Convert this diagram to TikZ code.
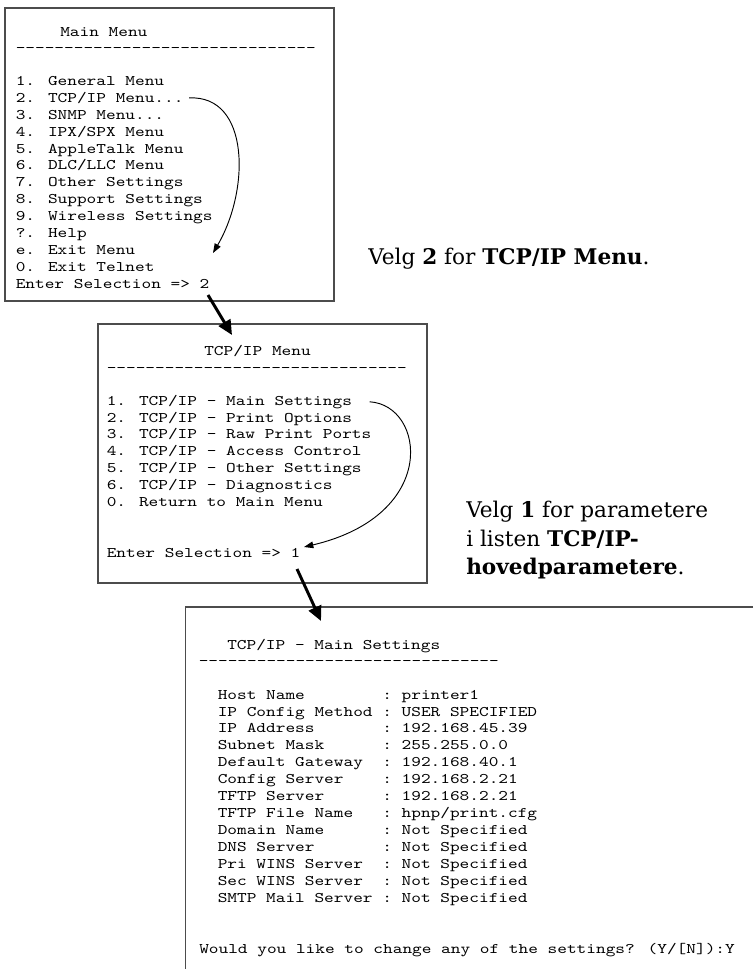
\documentclass[tikz,border=0pt]{standalone}
\usepackage{fontspec}
\usetikzlibrary{arrows.meta}
\newfontfamily\menufont{lmmono10-regular.otf}[FakeStretch=1.257]
\newfontfamily\notefont{DejaVu Serif}
\newcommand\dashrow{\foreach \d in {1,...,31}{-\relax}}
\tikzset{
  menubox/.style={draw=black!70, line width=0.9pt},
  menuline/.style={font=\menufont\fontsize{11}{12.7}\selectfont, inner sep=0pt, anchor=base west},
  note/.style={font=\notefont\fontsize{16.2}{18}\selectfont, inner sep=0pt, anchor=base west},
  pick/.style={-{Triangle[length=7pt,width=5pt]}, line width=0.7pt},
  goto/.style={-{Triangle[length=11pt,width=10pt]}, line width=2.2pt},
}
\begin{document}
\begin{tikzpicture}[x=0.75pt,y=-0.75pt]
    \useasboundingbox (0,0) rectangle (753,969);

    \draw[menubox] (5,8) rectangle (334,301);
    \node[menuline] (mtitle) at (60,36.5) {Main Menu};
    \node[menuline] (mdash) at (15.5,52.5) {\dashrow};
    \node[menuline] (m1) at (15.5,85.5) {1. General Menu};
    \node[menuline] (m2) at (15.5,102.4) {2. TCP/IP Menu...};
    \node[menuline] (m3) at (15.5,119.3) {3. SNMP Menu...};
    \node[menuline] (m4) at (15.5,136.2) {4. IPX/SPX Menu};
    \node[menuline] (m5) at (15.5,153.1) {5. AppleTalk Menu};
    \node[menuline] (m6) at (15.5,170.0) {6. DLC/LLC Menu};
    \node[menuline] (m7) at (15.5,186.9) {7. Other Settings};
    \node[menuline] (m8) at (15.5,203.8) {8. Support Settings};
    \node[menuline] (m9) at (15.5,220.7) {9. Wireless Settings};
    \node[menuline] (m10) at (15.5,237.6) {?. Help};
    \node[menuline] (m11) at (15.5,254.5) {e. Exit Menu};
    \node[menuline] (m12) at (15.5,271.4) {0. Exit Telnet};
    \node[menuline] (m13) at (15.5,288.3) {Enter Selection => 2};

    \draw[menubox] (98,324) rectangle (427,583);
    \node[menuline] (ttitle) at (204,355.5) {TCP/IP Menu};
    \node[menuline] (tdash) at (106.5,372.5) {\dashrow};
    \node[menuline] (t1) at (106.5,405.2) {1. TCP/IP - Main Settings};
    \node[menuline] (t2) at (106.5,422.1) {2. TCP/IP - Print Options};
    \node[menuline] (t3) at (106.5,438.9) {3. TCP/IP - Raw Print Ports};
    \node[menuline] (t4) at (106.5,455.8) {4. TCP/IP - Access Control};
    \node[menuline] (t5) at (106.5,472.6) {5. TCP/IP - Other Settings};
    \node[menuline] (t6) at (106.5,489.5) {6. TCP/IP - Diagnostics};
    \node[menuline] (t7) at (106.5,506.3) {0. Return to Main Menu};
    \node[menuline] (t8) at (106.5,557.2) {Enter Selection => 1};

    \draw[menubox] (753,607) -- (185.5,607) -- (185.5,969);
    \node[menuline] (stitle) at (227,649.1) {TCP/IP - Main Settings};
    \node[menuline] (sdash) at (198.5,665.8) {\dashrow};
    \node[menuline] (slist) at (217.5,699.1) {\begin{tabular}[t]{@{}l@{\ :\ }l@{}}
        Host Name & printer1\\
        IP Config Method & USER SPECIFIED\\
        IP Address & 192.168.45.39\\
        Subnet Mask & 255.255.0.0\\
        Default Gateway & 192.168.40.1\\
        Config Server & 192.168.2.21\\
        TFTP Server & 192.168.2.21\\
        TFTP File Name & hpnp/print.cfg\\
        Domain Name & Not Specified\\
        DNS Server & Not Specified\\
        Pri WINS Server & Not Specified\\
        Sec WINS Server & Not Specified\\
        SMTP Mail Server & Not Specified
    \end{tabular}};
    \node[menuline] (sask) at (199,953.4) {Would you like to change any of the settings? (Y/[N]):Y};

    \node[note] (hint2) at (368,265) {Velg \textbf{2} for \textbf{TCP/IP Menu}.};
    \node[note] (hint1a) at (466,517) {Velg \textbf{1} for parametere};
    \node[note] (hint1b) at (466,546) {i listen \textbf{TCP/IP-}};
    \node[note] (hint1c) at (466,574) {\textbf{hovedparametere}.};

    \coordinate (land1) at (213,253);
    \coordinate (land2) at (304,547);
    \draw[pick] ([xshift=4pt]m2.east) .. controls (250,95) and (250,190) .. (land1);
    \draw[pick] ([xshift=13pt]t1.east) .. controls (425,405) and (440,515) .. (land2);

    \coordinate (out1) at (208,295);
    \coordinate (in2) at (232,335);
    \coordinate (out2) at (297,569);
    \coordinate (in3) at (321,621);
    \draw[goto] (out1) -- (in2);
    \draw[goto] (out2) -- (in3);
\end{tikzpicture}
\end{document}
